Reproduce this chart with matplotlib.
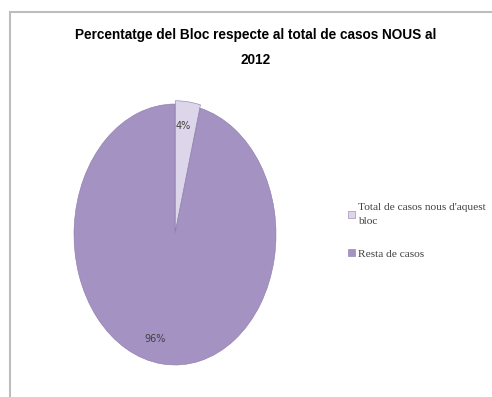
import matplotlib
matplotlib.use('Agg')
import matplotlib.pyplot as plt
from matplotlib.patches import Rectangle, Patch

# dades del grafic
labels = ["Total de casos nous d'aquest\nbloc", 'Resta de casos']
values = [4, 96]
colors = ['#DDD5E9', '#A392C2']
title = 'Percentatge del Bloc respecte al total de casos NOUS al\n2012'

fig = plt.figure(figsize=(4.92, 3.97), dpi=100)

# marc gris del grafic
fig.patches.append(Rectangle((10 / 492, -0.1), 1.2, (397 - 12) / 397 + 0.1,
                             transform=fig.transFigure, fill=False,
                             edgecolor='#BDBDBD', linewidth=1.5))

ax = fig.add_axes([74 / 492, 32 / 397, 202 / 492, 261 / 397])
wedges, texts = ax.pie(values, colors=colors, startangle=90, counterclock=False,
                       explode=[0.025, 0], radius=1,
                       wedgeprops=dict(edgecolor='#8C7AA8', linewidth=0.4))
ax.set_aspect('auto')
ax.set_xlim(-1, 1)
ax.set_ylim(-1, 1)
ax.axis('off')

# etiquetes de percentatge
ax.text(0.08, 0.83, '4%', ha='center', va='center', fontsize=7, color='#404040')
ax.text(-0.2, -0.8, '96%', ha='center', va='center', fontsize=7, color='#404040')

fig.text(0.52, 0.88, title, ha='center', va='center', fontsize=9.8,
         family='Liberation Sans', fontweight='bold', linespacing=1.95)

handles = [Patch(facecolor=c, edgecolor='#8C7AA8', linewidth=0.4) for c in colors]
leg = fig.legend(handles, labels, loc='upper left',
                 bbox_to_anchor=(338 / 492, 1 - 193 / 397),
                 frameon=False, handlelength=0.6, handleheight=0.6,
                 handletextpad=0.3, labelspacing=2.0, labelcolor='#404040',
                 prop={'family': 'Liberation Serif', 'size': 8.2})
for t in leg.get_texts():
    t.set_linespacing(1.7)

fig.savefig('out.png', dpi=100)
